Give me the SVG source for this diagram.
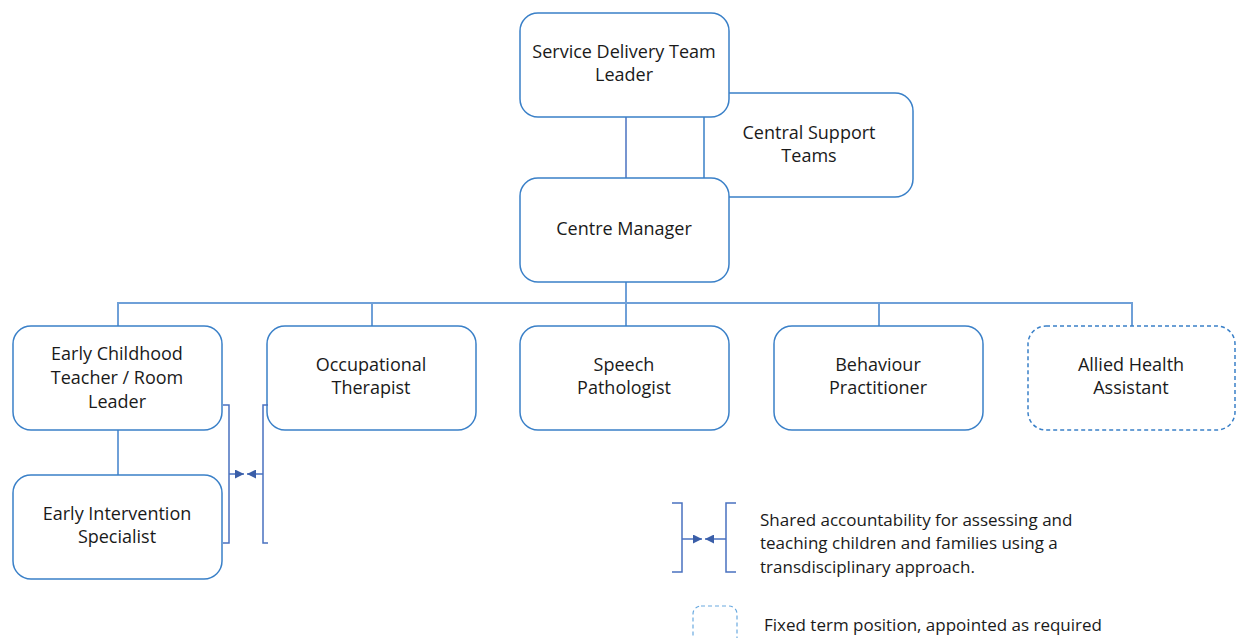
<svg xmlns="http://www.w3.org/2000/svg" width="1236" height="638" viewBox="0 0 1236 638">
<style>
.box{fill:#fff;stroke:#3a80c8;stroke-width:1.5}
.dash{stroke-dasharray:4 3}
.t{font-family:"Open Sans","Liberation Sans",sans-serif;font-size:18px;fill:#1a1a1a;text-anchor:middle}
.lg{font-family:"Open Sans","Liberation Sans",sans-serif;font-size:17px;fill:#1a1a1a}
.c{fill:none;stroke:#4a72c0;stroke-width:1.5}
.bus{fill:none;stroke:#6fa0d8;stroke-width:2}
.br{fill:none;stroke:#4a72c0;stroke-width:1.5}
</style>
<defs>
<marker id="ah" viewBox="0 0 10 10" refX="10" refY="5" markerWidth="9" markerHeight="9" markerUnits="userSpaceOnUse" orient="auto"><path d="M0,0 L10,5 L0,10 z" fill="#3a5ea8"/></marker>
</defs>
<g id="central-support"><rect class="box" x="704" y="93" width="209" height="104" rx="18"/><text class="t" x="809" y="139">Central Support</text><text class="t" x="809" y="162">Teams</text></g>
<g id="connectors">
<line class="c" x1="626" y1="117" x2="626" y2="178"/>
<line class="bus" x1="626" y1="282" x2="626" y2="303"/>
<polyline class="bus" points="118,326 118,303 1132,303 1132,326"/>
<line class="bus" x1="372" y1="303" x2="372" y2="326"/>
<line class="bus" x1="626" y1="303" x2="626" y2="326"/>
<line class="bus" x1="879" y1="303" x2="879" y2="326"/>
<line class="bus" x1="118" y1="430" x2="118" y2="475"/>
</g>
<g id="sdtl"><rect class="box" x="520" y="13" width="209" height="104" rx="18"/><text class="t" x="624" y="58">Service Delivery Team</text><text class="t" x="624" y="81">Leader</text></g>
<g id="cm"><rect class="box" x="520" y="178" width="209" height="104" rx="18"/><text class="t" x="624" y="235">Centre Manager</text></g>
<g id="ect"><rect class="box" x="13" y="326" width="209" height="104" rx="18"/><text class="t" x="117" y="360">Early Childhood</text><text class="t" x="117" y="384">Teacher / Room</text><text class="t" x="117" y="408">Leader</text></g>
<g id="ot"><rect class="box" x="267" y="326" width="209" height="104" rx="18"/><text class="t" x="371" y="371">Occupational</text><text class="t" x="371" y="394">Therapist</text></g>
<g id="sp"><rect class="box" x="520" y="326" width="209" height="104" rx="18"/><text class="t" x="624" y="371">Speech</text><text class="t" x="624" y="394">Pathologist</text></g>
<g id="bp"><rect class="box" x="774" y="326" width="209" height="104" rx="18"/><text class="t" x="878" y="371">Behaviour</text><text class="t" x="878" y="394">Practitioner</text></g>
<g id="aha"><rect class="box dash" x="1028" y="326" width="207" height="104" rx="18"/><text class="t" x="1131" y="371">Allied Health</text><text class="t" x="1131" y="394">Assistant</text></g>
<g id="eis"><rect class="box" x="13" y="475" width="209" height="104" rx="18"/><text class="t" x="117" y="520">Early Intervention</text><text class="t" x="117" y="543">Specialist</text></g>
<g id="shared-bracket">
<polyline class="br" points="223,405 229,405 229,543 223,543"/>
<polyline class="br" points="268,405 263,405 263,543 268,543"/>
<line class="br" x1="229" y1="474" x2="244" y2="474" marker-end="url(#ah)"/>
<line class="br" x1="263" y1="474" x2="247" y2="474" marker-end="url(#ah)"/>
</g>
<g id="legend">
<polyline class="br" points="672,503 682,503 682,572 672,572"/>
<polyline class="br" points="736,503 726,503 726,572 736,572"/>
<line class="br" x1="682" y1="539" x2="702" y2="539" marker-end="url(#ah)"/>
<line class="br" x1="726" y1="539" x2="705" y2="539" marker-end="url(#ah)"/>
<text class="lg" x="760" y="526">Shared accountability for assessing and</text>
<text class="lg" x="760" y="549">teaching children and families using a</text>
<text class="lg" x="760" y="573">transdisciplinary approach.</text>
<rect class="box dash" x="693" y="606" width="44" height="50" rx="8" style="stroke:#6aaae0;stroke-width:1.2"/>
<text class="lg" x="764" y="631">Fixed term position, appointed as required</text>
</g>
</svg>
